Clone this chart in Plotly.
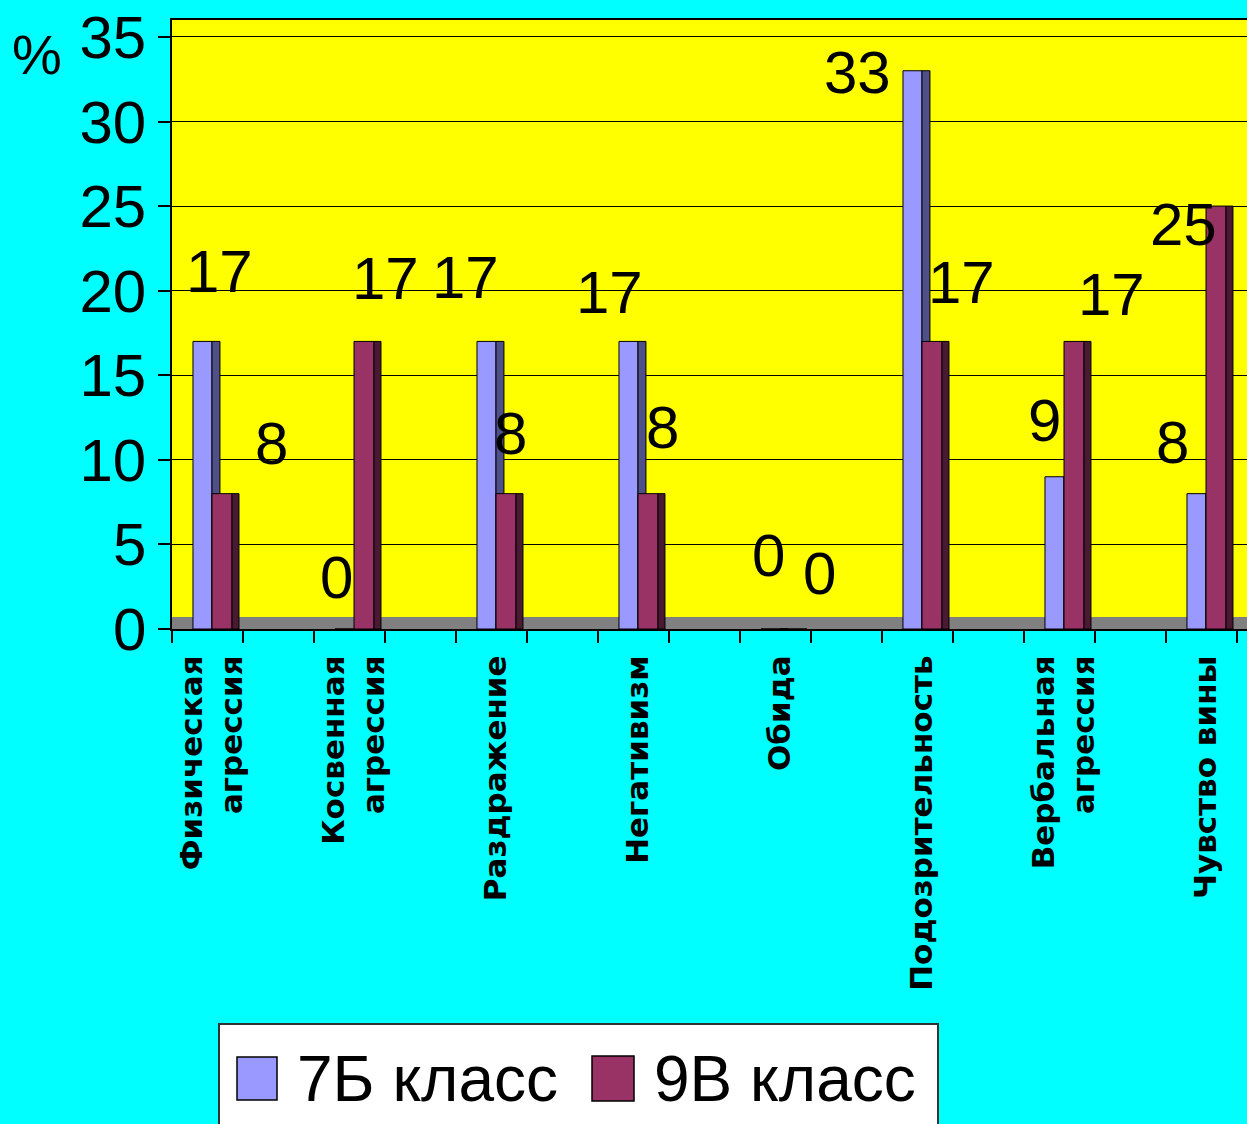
import plotly.graph_objects as go

# ---------------- data ----------------
categories = ["Физическая<br>агрессия", "Косвенная<br>агрессия", "Раздражение", "Негативизм",
              "Обида", "Подозрительность", "Вербальная<br>агрессия", "Чувство вины"]
series_names = ["7Б класс", "9В класс"]
values_7b = [17, 0, 17, 17, 0, 33, 9, 8]
values_9v = [8, 17, 8, 8, 0, 17, 17, 25]
y_ticks = [0, 5, 10, 15, 20, 25, 30, 35]

# ---------------- style ----------------
W, H = 1247, 1124
ML, MR, MT, MB = 172, 0, 20, 495
C_7B, C_7B_SIDE = "#9999FF", "#505088"
C_9V, C_9V_SIDE = "#993366", "#4a1a33"
BG = "#00FFFF"
PLOT_BG = "#FFFF00"
NUM_FONT = "Liberation Sans, Arial, sans-serif"
CAT_FONT = "DejaVu Sans, Arial, sans-serif"

# label shifts in pixels (dx, dy) relative to bar top centre (style only)
shift_7b = [(17.5, 69.5), (-7.5, 52), (-20.5, 63.5), (-18.5, 48.5), (-1.5, 74), (-54.5, -2), (-9.5, 56), (-23.5, 51)]
shift_9v = [(49, 50), (21, 63), (4, 60), (14, 66), (29, 56), (29, 58.5), (37, 46.5), (-33, -18)]

x_idx = list(range(len(categories)))

W7, W9, WS7, WS9 = 0.134, 0.141, 0.056, 0.049

fig = go.Figure()
line = dict(color="black", width=1)
fig.add_trace(go.Bar(x=x_idx, y=values_7b, name=series_names[0], offset=-W7, width=W7,
                     marker=dict(color=C_7B, line=line), showlegend=False, hoverinfo="skip"))
fig.add_trace(go.Bar(x=x_idx, y=values_7b, offset=0, width=WS7,
                     marker=dict(color=C_7B_SIDE, line=line), showlegend=False, hoverinfo="skip"))
fig.add_trace(go.Bar(x=x_idx, y=values_9v, name=series_names[1], offset=0, width=W9,
                     marker=dict(color=C_9V, line=line), showlegend=False, hoverinfo="skip"))
fig.add_trace(go.Bar(x=x_idx, y=values_9v, offset=W9, width=WS9,
                     marker=dict(color=C_9V_SIDE, line=line), showlegend=False, hoverinfo="skip"))

annotations = []
for i, v in enumerate(values_7b):
    dx, dy = shift_7b[i]
    annotations.append(dict(x=i - W7 / 2, y=v, xref="x", yref="y", text=str(v), showarrow=False,
                            xanchor="center", yanchor="middle", xshift=dx, yshift=dy,
                            font=dict(family=NUM_FONT, size=60, color="black")))
for i, v in enumerate(values_9v):
    dx, dy = shift_9v[i]
    annotations.append(dict(x=i + W9 / 2, y=v, xref="x", yref="y", text=str(v), showarrow=False,
                            xanchor="center", yanchor="middle", xshift=dx, yshift=dy,
                            font=dict(family=NUM_FONT, size=60, color="black")))

PW = W - ML - MR
PH = H - MT - MB


def px2x(px):
    return (px - ML) / PW


def py2y(py):
    return (H - MB - py) / PH


# "%" label
annotations.append(dict(x=px2x(37), y=py2y(54), xref="paper", yref="paper", text="%", showarrow=False,
                        xanchor="center", yanchor="middle",
                        font=dict(family=NUM_FONT, size=56, color="black")))

# manual legend
shapes = [
    # floor band
    dict(type="rect", xref="paper", yref="paper", x0=0, x1=1, y0=0, y1=12 / PH,
         fillcolor="#808080", line=dict(width=0), layer="below"),
    # legend box
    dict(type="rect", xref="paper", yref="paper", x0=px2x(219), x1=px2x(938), y0=py2y(1135), y1=py2y(1024),
         fillcolor="white", line=dict(color="#333333", width=2)),
    dict(type="rect", xref="paper", yref="paper", x0=px2x(237), x1=px2x(277), y0=py2y(1100), y1=py2y(1057),
         fillcolor=C_7B, line=dict(color="black", width=1.5)),
    dict(type="rect", xref="paper", yref="paper", x0=px2x(592), x1=px2x(634), y0=py2y(1101), y1=py2y(1056),
         fillcolor=C_9V, line=dict(color="black", width=1.5)),
]
annotations.append(dict(x=px2x(295), y=py2y(1079), xref="paper", yref="paper", text=series_names[0],
                        showarrow=False, xanchor="left", yanchor="middle",
                        font=dict(family=NUM_FONT, size=64, color="black")))
annotations.append(dict(x=px2x(652), y=py2y(1079), xref="paper", yref="paper", text=series_names[1],
                        showarrow=False, xanchor="left", yanchor="middle",
                        font=dict(family=NUM_FONT, size=64, color="black")))

fig.update_layout(
    width=W, height=H,
    margin=dict(l=ML, r=MR, t=MT, b=MB, pad=0),
    paper_bgcolor=BG, plot_bgcolor=PLOT_BG,
    barmode="overlay",
    showlegend=False,
    annotations=annotations,
    shapes=shapes,
)

fig.update_xaxes(
    range=[(ML - 212) / 142, (W - MR - 212) / 142],
    tickmode="array", tickvals=x_idx, ticktext=categories,
    tickangle=-90,
    ticks="", ticklen=0,
    ticklabelstandoff=12,
    tickfont=dict(family=CAT_FONT, size=31, color="black", weight="bold"),
    showline=True, linecolor="black", linewidth=2, mirror=True,
    showgrid=False, zeroline=False,
    minor=dict(ticks="outside", ticklen=12, tick0=0.22, dtick=0.5, tickcolor="black", tickwidth=1.5,
               showgrid=False),
    fixedrange=True,
)
fig.update_yaxes(
    range=[0, 36.0],
    tickmode="array", tickvals=y_ticks, ticktext=[str(t) for t in y_ticks],
    ticks="outside", ticklen=12, tickcolor="black", tickwidth=1.5,
    ticklabelstandoff=0,
    tickfont=dict(family=NUM_FONT, size=60, color="black"),
    showgrid=True, gridcolor="black", gridwidth=1,
    showline=True, linecolor="black", linewidth=1.5,
    zeroline=False,
    fixedrange=True,
)

fig.write_html("out.html", config={"displayModeBar": False},
               post_script="document.body.style.margin='0';document.body.style.overflow='hidden';")
